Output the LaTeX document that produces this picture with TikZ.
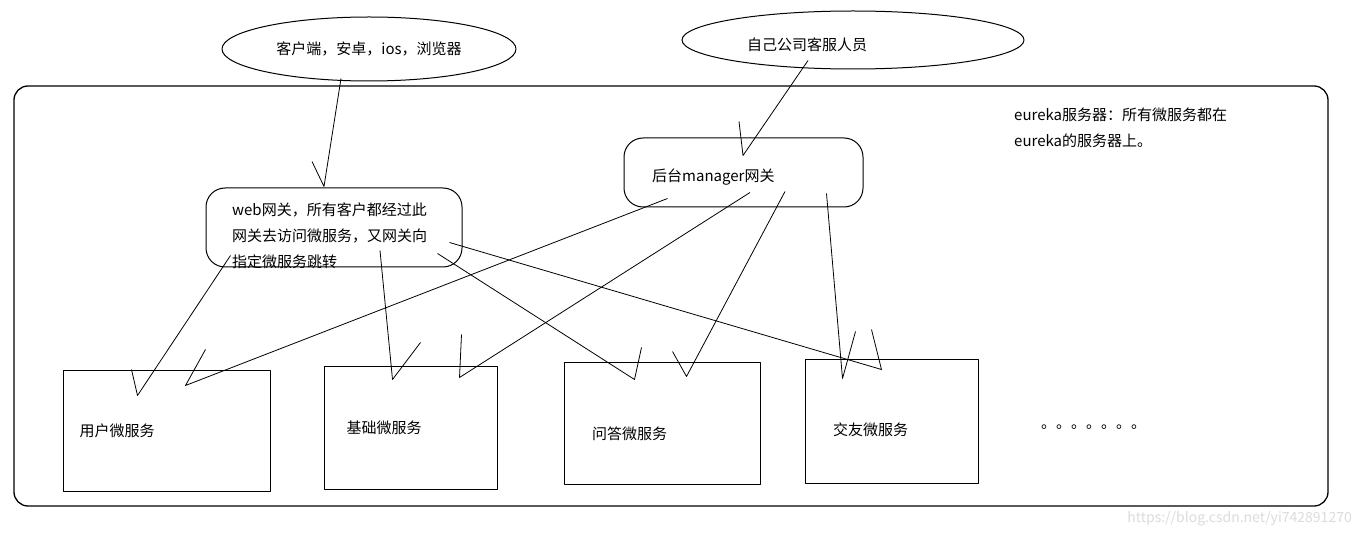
\documentclass[tikz,border=0pt]{standalone}
\usepackage{fontspec}
\setmainfont{Noto Sans CJK SC}
\usetikzlibrary{shapes.geometric}
\definecolor{Ink}{HTML}{000000}
\definecolor{Mark}{HTML}{DCDCDC}
\begin{document}
\begin{tikzpicture}[x=1pt,y=-1pt,line join=round,every node/.style={font=\fontsize{15pt}{26pt}\selectfont,text=Ink,inner sep=0pt},
 svc/.style={draw=Ink,line width=1pt,rectangle},gate/.style={draw=Ink,line width=1pt,rounded corners=19pt},
 oval/.style={draw=Ink,line width=1pt,ellipse},link/.style={draw=Ink,line width=0.8pt}]
\useasboundingbox[fill=white] (0,0) rectangle (1359,537);
\node[draw=Ink,line width=1.3pt,rounded corners=14pt,minimum width=1314pt,minimum height=420pt] (eureka) at (671,296){};
\node[anchor=north west,align=left] (eurekatxt) at (1014,108){eureka服务器：所有微服务都在\\eureka的服务器上。};
\node[oval,minimum width=294pt,minimum height=64pt] (client) at (369,49){客户端，安卓，ios，浏览器};
\node[oval,minimum width=342pt,minimum height=58pt] (staff) at (853,40){}; \node (stafftxt) at (807,45){自己公司客服人员};
\node[gate,minimum width=256pt,minimum height=79pt] (web) at (334,227.5){};
\node[anchor=north west,align=left] (webtxt) at (232,203){web网关，所有客户都经过此\\网关去访问微服务，又网关向\\指定微服务跳转};
\node[gate,minimum width=239pt,minimum height=69pt] (mgr) at (743.5,172.5){}; \node[anchor=west] (mgrtxt) at (652,177){后台manager网关};
% micro services
\node[svc,minimum width=207pt,minimum height=121pt] (usr) at (166.5,430.5){}; \node[anchor=west] (usrtxt) at ([xshift=17pt]usr.west){用户微服务};
\node[svc,minimum width=173pt,minimum height=123pt] (base) at (410.5,427.5){}; \node[anchor=west] (basetxt) at ([xshift=23pt]base.west){基础微服务};
\node[svc,minimum width=196pt,minimum height=122pt] (qa) at (662,423){}; \node[anchor=west] (qatxt) at (592,434){问答微服务};
\node[svc,minimum width=173pt,minimum height=124pt] (friend) at (891.5,421){}; \node[anchor=west] (friendtxt) at (833,430){交友微服务};
\node[anchor=base west,font=\fontsize{15pt}{18pt}\selectfont] (more) at (1041,428){。。。。。。。};
\node[anchor=east,text=Mark,font=\fontsize{14pt}{18pt}\selectfont] (mark) at (1352,519){https://blog.csdn.net/yi742891270};
% hand drawn arrows
\draw[link] ([shift={(-28,-3)}]client.south) -- ([shift={(-10,-1)}]web.north) -- ++(-12,-25);
\draw[link] ([shift={(-45,-9)}]staff.south) -- ([shift={(-0.5,18)}]mgr.north) -- ++(-4,-34);
\draw[link] ([shift={(25,-12)}]web.south west) -- ([shift={(75,26)}]usr.north west) -- ++(-6,-26);
\draw[link] ([shift={(44,-9)}]mgr.south west) -- ([shift={(123,16)}]usr.north west) -- ++(20,-36);
\draw[link] ([shift={(46,-17)}]web.south) -- ([shift={(69,14)}]base.north west) -- ++(28,-37);
\draw[link] ([shift={(6.5,-15)}]mgr.south) -- ([shift={(136,12)}]base.north west) -- ++(2,-43);
\draw[link] ([shift={(-25,-14)}]web.south east) -- ([shift={(71,18)}]qa.north west) -- ++(7,-32);
\draw[link] ([shift={(41.5,-16)}]mgr.south) -- ([shift={(123,15)}]qa.north west) -- ++(-14,-25);
\draw[link] ([shift={(-13,-25)}]web.south east) -- ([shift={(77,11)}]friend.north west) -- ++(-10,-40);
\draw[link] ([shift={(-37,-14)}]mgr.south east) -- ([shift={(38,20)}]friend.north west) -- ++(13,-47);
\end{tikzpicture}
\end{document}
